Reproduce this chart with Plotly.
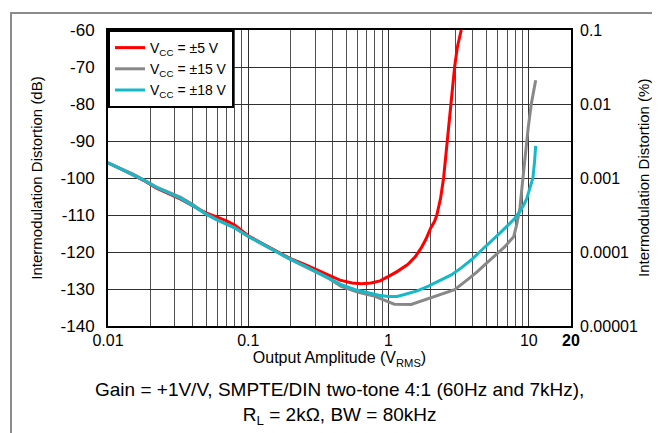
import plotly.graph_objects as go

# Output amplitude (VRMS) and IMD (dB)
x_5v = [0.01, 0.0125, 0.015, 0.018, 0.022, 0.027, 0.033, 0.04, 0.05, 0.06, 0.07, 0.08,
        0.1, 0.13, 0.16, 0.2, 0.25, 0.3, 0.37, 0.45, 0.55, 0.64, 0.75, 0.87, 1.0, 1.15,
        1.37, 1.55, 1.71, 1.85, 2.0, 2.13, 2.21, 2.35, 2.47, 2.62, 2.8, 2.96, 3.1, 3.3]
imd_5v = [-95.9, -97.6, -99.1, -100.7, -102.7, -104.2, -105.7, -107.5, -109.4, -110.6, -111.6, -112.7,
          -115.6, -118.0, -119.8, -121.8, -123.3, -124.6, -126.2, -127.6, -128.4, -128.6, -128.4, -127.8, -126.6, -125.3,
          -123.4, -121.3, -118.9, -116.5, -113.5, -111.7, -110.0, -105.5, -100.0, -90.0, -80.0, -70.0, -64.5, -60.0]

x_15v = [0.01, 0.0125, 0.015, 0.018, 0.022, 0.027, 0.033, 0.04, 0.05, 0.06, 0.07, 0.08,
         0.1, 0.13, 0.16, 0.2, 0.25, 0.3, 0.37, 0.46, 0.6, 0.8, 0.95, 1.1, 1.45, 2.0, 2.5,
         2.96, 3.68, 4.3, 5.0, 5.8, 6.7, 7.3, 7.8, 8.2, 8.65, 9.0, 9.4, 9.9, 10.4, 10.8, 11.2]
imd_15v = [-95.9, -97.5, -98.9, -100.5, -102.4, -103.8, -105.2, -107.1, -109.7, -111.3, -112.4, -113.4,
           -115.8, -118.2, -120.0, -122.0, -123.8, -125.3, -127.0, -129.3, -130.8, -132.0, -133.2, -134.1, -134.2, -132.4, -131.2,
           -130.2, -127.4, -125.3, -123.0, -120.8, -118.7, -117.1, -115.9, -112.6, -108.1, -101.5, -93.7, -86.5, -80.2, -76.8, -73.6]

x_18v = [0.01, 0.0125, 0.015, 0.018, 0.022, 0.027, 0.033, 0.04, 0.05, 0.06, 0.07, 0.08,
         0.1, 0.13, 0.16, 0.2, 0.25, 0.3, 0.37, 0.46, 0.58, 0.71, 0.85, 1.0, 1.15, 1.3,
         1.6, 1.91, 2.3, 2.8, 3.3, 3.9, 4.4, 5.0, 5.6, 6.3, 7.0, 7.9, 8.6, 9.3, 9.7,
         10.0, 10.4, 10.7, 11.0, 11.2]
imd_18v = [-95.9, -97.6, -99.0, -100.6, -102.5, -104.0, -105.5, -107.4, -109.8, -111.3, -112.5, -113.5,
           -115.8, -118.2, -120.0, -122.0, -123.7, -125.2, -127.0, -128.8, -130.2, -131.1, -131.7, -132.0, -132.0, -131.5,
           -130.5, -129.3, -127.9, -126.2, -124.3, -122.1, -120.2, -118.3, -116.5, -114.7, -113.0, -111.0, -109.2, -107.0, -105.4,
           -103.6, -101.7, -100.0, -95.5, -91.3]

x_ticks = [0.01, 0.1, 1, 10, 20]
x_labels = ["0.01", "0.1", "1", "10", "<b>20</b>"]
x_grid = [0.02, 0.03, 0.04, 0.05, 0.06, 0.07, 0.08, 0.09,
          0.2, 0.3, 0.4, 0.5, 0.6, 0.7, 0.8, 0.9,
          2, 3, 4, 5, 6, 7, 8, 9]
db_ticks = [-140, -130, -120, -110, -100, -90, -80, -70, -60]
db_labels = ["-140", "-130", "-120", "-110", "-100", "-90", "-80", "-70", "-60"]
pct_ticks = [0.00001, 0.0001, 0.001, 0.01, 0.1]
pct_labels = ["0.00001", "0.0001", "0.001", "0.01", "0.1"]

FONT = "Arial, Liberation Sans, sans-serif"

fig = go.Figure()
fig.add_trace(go.Scatter(x=x_5v, y=imd_5v, mode="lines", name="V<sub>CC</sub> = ±5 V",
                         line=dict(color="#ff0000", width=3)))
fig.add_trace(go.Scatter(x=x_15v, y=imd_15v, mode="lines", name="V<sub>CC</sub> = ±15 V",
                         line=dict(color="#888888", width=3)))
fig.add_trace(go.Scatter(x=x_18v, y=imd_18v, mode="lines", name="V<sub>CC</sub> = ±18 V",
                         line=dict(color="#17b8c8", width=3)))
# same red curve in percent, invisible, just so the right axis gets drawn
fig.add_trace(go.Scatter(x=x_5v, y=[100 * 10 ** (v / 20) for v in imd_5v], yaxis="y2",
                         mode="lines", line=dict(width=0), opacity=0,
                         showlegend=False, hoverinfo="skip"))

fig.update_layout(
    width=660, height=433,
    margin=dict(l=100, r=97, t=22, b=115),
    paper_bgcolor="white", plot_bgcolor="white",
    font=dict(family=FONT, size=15, color="black"),
    showlegend=True,
    legend=dict(x=0, y=1, xanchor="left", yanchor="top",
                bgcolor="white", bordercolor="black", borderwidth=2,
                font=dict(size=14), itemwidth=30, tracegroupgap=0),
    xaxis=dict(type="log", range=[-2, 1.30103],
               tickvals=x_ticks, ticktext=x_labels, tickfont=dict(size=16),
               ticklabelstandoff=-1,
               showgrid=True, gridcolor="#303030", gridwidth=1,
               minor=dict(tickvals=x_grid, showgrid=True, gridcolor="#505050", gridwidth=1),
               showline=True, linecolor="black", linewidth=2, mirror=True,
               ticks="", zeroline=False,
               title=dict(text="Output Amplitude (V<sub>RMS</sub>)", font=dict(size=16), standoff=0)),
    yaxis=dict(range=[-140, -60], tickvals=db_ticks, ticktext=db_labels,
               tickfont=dict(size=17), ticklabelstandoff=8,
               showgrid=True, gridcolor="#303030", gridwidth=1,
               showline=True, linecolor="black", linewidth=2, mirror=True,
               ticks="", zeroline=False,
               title=dict(text="Intermodulation Distortion (dB)", font=dict(size=15), standoff=14)),
    yaxis2=dict(type="log", range=[-5, -1], overlaying="y", side="right",
                tickvals=pct_ticks, ticktext=pct_labels, tickfont=dict(size=16),
                ticklabelstandoff=8,
                showgrid=False, showline=False, ticks="", zeroline=False),
)

# right axis title sits a little into the label column, as in the reference
fig.add_annotation(text="Intermodulation Distortion (%)", textangle=-90,
                   xref="paper", yref="paper", x=1.1555, y=0.5,
                   xanchor="center", yanchor="middle", showarrow=False, font=dict(size=15))

# caption under the chart
fig.add_annotation(text="Gain = +1V/V, SMPTE/DIN two-tone 4:1 (60Hz and 7kHz),<br>R<sub>L</sub> = 2kΩ, BW = 80kHz",
                   xref="paper", yref="paper", x=0.5, y=-0.262, xanchor="center", yanchor="middle",
                   showarrow=False, font=dict(size=19), align="center")

# gray frame around the whole graphic
fig.add_shape(type="rect", xref="paper", yref="paper",
              x0=-0.2095, x1=1.203, y0=-0.45, y1=1.0574,
              line=dict(color="#8c8c8c", width=2), layer="below")

fig.write_html("out.html")
